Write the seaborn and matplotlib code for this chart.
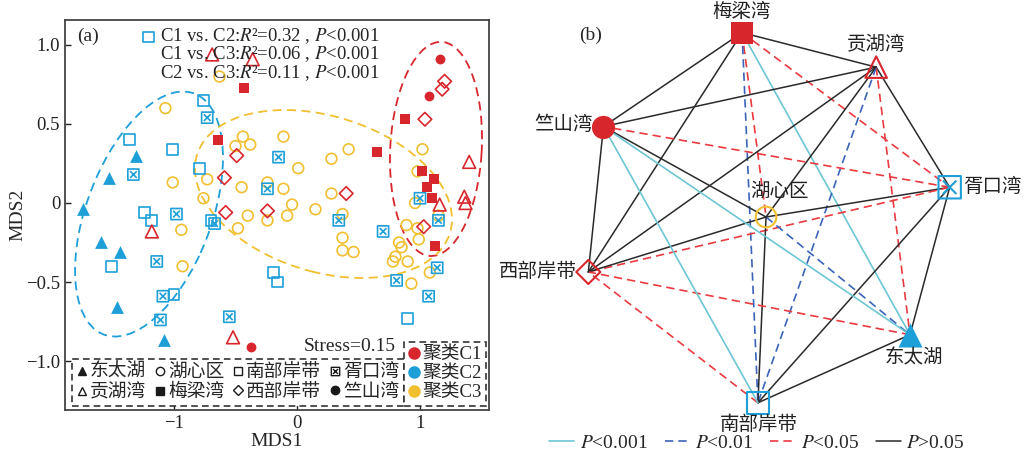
import numpy as np
import matplotlib
matplotlib.use("Agg")
import matplotlib.pyplot as plt
import seaborn as sns
from matplotlib.path import Path
from matplotlib.patches import Ellipse
from matplotlib.lines import Line2D

sns.set_theme(style="ticks")
plt.rcParams["font.family"] = ["Liberation Serif", "Noto Sans CJK SC", "DejaVu Sans"]
plt.rcParams["mathtext.fontset"] = "stix"
plt.rcParams["axes.unicode_minus"] = True

# ---------------- NMDS scores per site (MDS1, MDS2) ----------------
dongtaihu_x = [-1.31, -1.53, -1.74, -1.59, -1.44, -1.46, -1.08]
dongtaihu_y = [0.30, 0.16, -0.04, -0.25, -0.31, -0.66, -0.87]

nanbu_x = [-1.21, -0.76, -1.36, -1.01, -0.79, -1.24, -1.18, -0.70, -1.51, -1.00, -0.19, -0.16, 0.90]
nanbu_y = [1.05, 0.65, 0.40, 0.34, 0.22, -0.06, -0.11, -0.11, -0.40, -0.58, -0.44, -0.50, -0.73]

xukou_x = [-0.73, -0.15, -1.33, -0.24, -0.98, -0.67, -1.14, -1.09, -1.11, -0.55,
           0.34, 0.70, 1.00, 1.15, 1.14, 0.81, 1.07]
xukou_y = [0.54, 0.29, 0.18, 0.09, -0.07, -0.13, -0.37, -0.59, -0.74, -0.72,
           -0.11, -0.18, 0.03, -0.11, -0.41, -0.49, -0.59]

meiliang_x = [-0.43, -0.64, 0.65, 0.88, 1.02, 1.11, 1.06, 1.10, 1.12]
meiliang_y = [0.73, 0.40, 0.32, 0.53, 0.20, 0.15, 0.10, 0.03, -0.27]

zhushan_x = [1.16, 1.07, -0.37]
zhushan_y = [0.91, 0.68, -0.91]

xibu_x = [1.20, 1.18, 1.04, -0.49, -0.59, -0.58, -0.24, 0.40, 1.03]
xibu_y = [0.77, 0.72, 0.53, 0.30, 0.16, -0.06, -0.05, 0.06, -0.15]

gonghu_x = [-0.69, -0.36, 1.40, 1.36, 1.37, 1.16, -1.18, -0.52]
gonghu_y = [0.94, 0.91, 0.26, 0.04, 0.00, -0.01, -0.18, -0.85]

huxin_x = [-1.07, -0.63, -0.44, -0.50, -0.38, -0.73, -1.01, -0.45, -0.24, -0.76,
           -0.40, -0.24, -0.48, -0.94, -0.93, -0.11, 0.42, 0.28, 0.01, 1.02,
           0.98, 0.96, -0.11, 0.28, -0.04, 0.15, -0.08, 0.37, 1.15, 0.89,
           0.98, 0.37, 0.37, 0.46, 0.83, 0.85, 0.99, 0.80, 0.78, 0.90,
           1.08, 0.93]
huxin_y = [0.60, 0.80, 0.42, 0.36, 0.37, 0.15, 0.13, 0.10, 0.13, 0.03,
           -0.08, -0.11, -0.16, -0.17, -0.40, 0.42, 0.34, 0.28, 0.22, 0.34,
           0.20, 0.00, 0.09, 0.06, -0.01, -0.04, -0.08, -0.07, -0.08, -0.14,
           -0.16, -0.22, -0.30, -0.31, -0.25, -0.28, -0.23, -0.34, -0.37, -0.37,
           -0.44, -0.51]

# cluster ellipses: centre (MDS1, MDS2), full axes lengths, rotation in degrees
cluster_names = ["聚类C1", "聚类C2", "聚类C3"]
ellipse_center = [(1.13, 0.342), (-1.203, -0.07), (0.215, 0.057)]
ellipse_width = [1.358, 1.705, 2.121]
ellipse_height = [0.743, 0.971, 0.999]
ellipse_angle = [85.4, 59.6, -11.2]

stat_lines = ["C1 vs. C2:$R$²=0.32 , $P$<0.001",
              "C1 vs. C3:$R$²=0.06 , $P$<0.001",
              "C2 vs. C3:$R$²=0.11 , $P$<0.001"]
stress_label = "Stress=0.15"

# ---------------- network (circular layout around 湖心区) ----------------
ring_nodes = ["梅梁湾", "贡湖湾", "胥口湾", "东太湖", "南部岸带", "西部岸带", "竺山湾"]
ring_angles = [97.4, 53.7, 9.2, -39.3, -92.5, 197.2, 150.9]
centre_node = "湖心区"

edges = [
    ("梅梁湾", "贡湖湾", "P>0.05"), ("梅梁湾", "胥口湾", "P<0.05"),
    ("梅梁湾", "湖心区", "P<0.05"), ("梅梁湾", "东太湖", "P<0.001"),
    ("梅梁湾", "南部岸带", "P<0.01"), ("梅梁湾", "西部岸带", "P>0.05"),
    ("梅梁湾", "竺山湾", "P>0.05"),
    ("贡湖湾", "胥口湾", "P>0.05"), ("贡湖湾", "湖心区", "P>0.05"),
    ("贡湖湾", "东太湖", "P<0.05"), ("贡湖湾", "南部岸带", "P<0.01"),
    ("贡湖湾", "西部岸带", "P>0.05"), ("贡湖湾", "竺山湾", "P>0.05"),
    ("胥口湾", "湖心区", "P>0.05"), ("胥口湾", "东太湖", "P>0.05"),
    ("胥口湾", "南部岸带", "P>0.05"), ("胥口湾", "西部岸带", "P<0.05"),
    ("胥口湾", "竺山湾", "P<0.05"),
    ("湖心区", "东太湖", "P<0.01"), ("湖心区", "南部岸带", "P>0.05"),
    ("湖心区", "西部岸带", "P>0.05"), ("湖心区", "竺山湾", "P>0.05"),
    ("东太湖", "南部岸带", "P>0.05"), ("东太湖", "西部岸带", "P<0.05"),
    ("东太湖", "竺山湾", "P<0.001"),
    ("南部岸带", "西部岸带", "P<0.05"), ("南部岸带", "竺山湾", "P<0.001"),
    ("西部岸带", "竺山湾", "P>0.05"),
]
levels = ["P<0.001", "P<0.01", "P<0.05", "P>0.05"]

# ---------------- styles ----------------
RED, BLUE, YELLOW = "#d8262d", "#1e9fd8", "#f1bf30"
boxed_x = Path(
    [(-1, -1), (1, -1), (1, 1), (-1, 1), (-1, -1),
     (-0.6, -0.6), (0.6, 0.6), (-0.6, 0.6), (0.6, -0.6)],
    [Path.MOVETO, Path.LINETO, Path.LINETO, Path.LINETO, Path.CLOSEPOLY,
     Path.MOVETO, Path.LINETO, Path.MOVETO, Path.LINETO])

# site: (marker, colour, filled, scatter size, network size)
site_style = {
    "东太湖": ("^", BLUE, True, 85, 300),
    "湖心区": ("o", YELLOW, False, 60, 220),
    "南部岸带": ("s", BLUE, False, 60, 240),
    "胥口湾": (boxed_x, BLUE, False, 64, 260),
    "贡湖湾": ("^", RED, False, 85, 240),
    "梅梁湾": ("s", RED, True, 60, 260),
    "西部岸带": ("D", RED, False, 48, 150),
    "竺山湾": ("o", RED, True, 50, 280),
}
site_data = {
    "东太湖": (dongtaihu_x, dongtaihu_y), "湖心区": (huxin_x, huxin_y),
    "南部岸带": (nanbu_x, nanbu_y), "胥口湾": (xukou_x, xukou_y),
    "贡湖湾": (gonghu_x, gonghu_y), "梅梁湾": (meiliang_x, meiliang_y),
    "西部岸带": (xibu_x, xibu_y), "竺山湾": (zhushan_x, zhushan_y),
}
edge_style = {
    "P<0.001": dict(color="#6cc6d4", ls="-", lw=1.2),
    "P<0.01": dict(color="#3a63b9", ls=(0, (5, 3)), lw=1.2),
    "P<0.05": dict(color="#ea3a40", ls=(0, (5, 3)), lw=1.2),
    "P>0.05": dict(color="#2a2a2a", ls="-", lw=1.1),
}

FS = 14
LFS = 13.5
fig = plt.figure(figsize=(10.33, 4.63), dpi=100)

# ================= panel (a) =================
ax = fig.add_axes([65 / 1033, 1 - 410 / 463, 424 / 1033, 390 / 463])
for site, (xs, ys) in site_data.items():
    m, c, filled, s, _ = site_style[site]
    sns.scatterplot(x=xs, y=ys, marker=m, s=s, color=c,
                    facecolor=c if filled else "none", edgecolor=c,
                    linewidth=0 if filled else 1.2, ax=ax, zorder=3)

for cen, w, h, ang, col in zip(ellipse_center, ellipse_width, ellipse_height,
                               ellipse_angle, [RED, BLUE, YELLOW]):
    ax.add_patch(Ellipse(cen, w, h, angle=ang, fill=False, ec=col, lw=1.3,
                         ls=(0, (5, 3)), zorder=2))

ax.set_xlim(-1.886, 1.561)
ax.set_ylim(-1.31, 1.158)
ax.set_xticks([-1, 0, 1])
ax.set_xticklabels(["\u22121", "0", "1"])
ax.set_yticks([-1, -0.5, 0, 0.5, 1])
ax.set_yticklabels(["\u22121.0", "\u22120.5", "0", "0.5", "1.0"])
ax.tick_params(direction="in", length=4, width=1, pad=3.5, labelsize=13.5,
               colors="#222222")
for sp in ax.spines.values():
    sp.set_color("#444444")
    sp.set_linewidth(1.3)
ax.set_xlabel("MDS1", fontsize=FS)
ax.set_ylabel("MDS2", fontsize=FS)
ax.xaxis.set_label_coords(0.5, -0.06)
ax.yaxis.set_label_coords(-0.09, 0.5)

ax.text(0.028, 0.958, "(a)", transform=ax.transAxes, fontsize=FS, va="center")
# ANOSIM-style pairwise statistics, one block of three lines
ax.text(0.224, 0.985, "\n".join(stat_lines), transform=ax.transAxes,
        fontsize=13.5, va="top", ha="left", linespacing=0.92, zorder=4)
ax.text(0.781, 0.162, stress_label, transform=ax.transAxes, fontsize=FS,
        ha="right", va="center")

site_order = ["东太湖", "贡湖湾", "湖心区", "梅梁湾", "南部岸带", "西部岸带", "胥口湾", "竺山湾"]
site_handles = []
for site in site_order:
    m, _, filled, _, _ = site_style[site]
    site_handles.append(Line2D([], [], ls="", marker=m, ms=6 if m != "D" else 5,
                               mec="k", mfc="k" if filled else "none", mew=1.0))
leg1 = ax.legend(site_handles, site_order, ncol=4, loc="lower left",
                 bbox_to_anchor=(0.016, 0.01), borderaxespad=0, fontsize=LFS,
                 handlelength=0.6, handletextpad=0.12, columnspacing=0.45,
                 borderpad=0.25, labelspacing=0.15, fancybox=False, framealpha=1)
leg1.get_frame().set_linestyle((0, (4, 2.5)))
leg1.get_frame().set_edgecolor("#333333")
leg1.get_frame().set_linewidth(1.2)
ax.add_artist(leg1)

cl_handles = [Line2D([], [], ls="", marker="o", ms=8, mfc=c, mec=c)
              for c in [RED, BLUE, YELLOW]]
leg2 = ax.legend(cl_handles, cluster_names, loc="lower right",
                 bbox_to_anchor=(0.993, 0.01), borderaxespad=0, fontsize=LFS,
                 handlelength=0.6, handletextpad=0.1, borderpad=0.25,
                 labelspacing=0.1, fancybox=False, framealpha=1)
leg2.get_frame().set_linestyle((0, (4, 2.5)))
leg2.get_frame().set_edgecolor("#333333")
leg2.get_frame().set_linewidth(1.2)

# ================= panel (b) =================
bx = fig.add_axes([500 / 1033, 0, 533 / 1033, 1])
bx.set_xlim(-1.430, 1.435)
bx.set_ylim(-1.323, 1.167)
bx.axis("off")

pos = {centre_node: (0.0, 0.0)}
for name, a in zip(ring_nodes, ring_angles):
    pos[name] = (np.cos(np.deg2rad(a)), np.sin(np.deg2rad(a)))

for a, b, lev in edges:
    (x1, y1), (x2, y2) = pos[a], pos[b]
    bx.plot([x1, x2], [y1, y2], zorder=1, **edge_style[lev])

for name, (x, y) in pos.items():
    m, c, filled, _, s = site_style[name]
    sns.scatterplot(x=[x], y=[y], marker=m, s=s, color=c,
                    facecolor=c if filled else "none", edgecolor=c,
                    linewidth=0 if filled else 1.5, ax=bx, zorder=3)

label_offsets = {
    "梅梁湾": (0, 15, "center"), "贡湖湾": (0, 16, "center"),
    "胥口湾": (10, 0, "left"), "湖心区": (10, 18, "center"),
    "东太湖": (3, -17, "center"), "南部岸带": (1, -16, "center"),
    "西部岸带": (-8, 0, "right"), "竺山湾": (-8, 1, "right"),
}
for name, (dx, dy, ha) in label_offsets.items():
    bx.annotate(name, pos[name], xytext=(dx, dy), textcoords="offset points",
                ha=ha, va="center", fontsize=FS, color="#222222", zorder=5)

fig.text(591 / 1033, 1 - 35 / 463, "(b)", ha="center", va="center", fontsize=FS)

edge_handles = [Line2D([], [], **edge_style[lev]) for lev in levels]
edge_labels = ["$P$" + lev[1:] for lev in levels]
fig.legend(edge_handles, edge_labels, loc="center", ncol=4,
           bbox_to_anchor=(757 / 1033, 1 - 443 / 463), frameon=False,
           fontsize=FS, handlelength=1.25, handletextpad=0.3, columnspacing=0.9)

fig.savefig("out.png", dpi=100)
